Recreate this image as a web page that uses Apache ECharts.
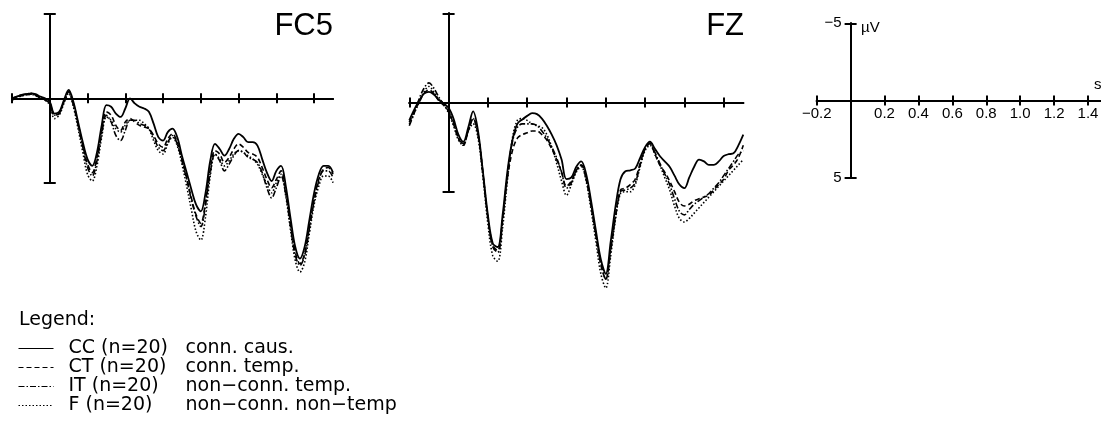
<!DOCTYPE html>
<html><head><meta charset="utf-8">
<script src="https://cdn.jsdelivr.net/npm/echarts@6/dist/echarts.min.js"></script>
<style>html,body{margin:0;padding:0;background:#fff}#c{width:1101px;height:444px}</style>
</head><body><div id="c"></div>
<script>
// time samples (s)
const TIME = [
 -0.2,-0.175,-0.15,-0.125,-0.1,-0.075,-0.05,-0.025,
 0,0.025,0.05,0.075,0.1,0.125,0.15,0.175,
 0.2,0.225,0.25,0.275,0.3,0.325,0.35,0.375,
 0.4,0.425,0.45,0.475,0.5,0.525,0.55,0.575,
 0.6,0.625,0.65,0.675,0.7,0.725,0.75,0.775,
 0.8,0.825,0.85,0.875,0.9,0.925,0.95,0.975,
 1.0,1.025,1.05,1.075,1.1,1.125,1.15,1.175,
 1.2,1.225,1.25,1.275,1.3,1.325,1.35,1.375,
 1.4,1.425,1.45,1.475,1.5];

// FC5 (µV, negative up)
const FC5_CC = [
 0.0,-0.1,-0.2,-0.25,-0.3,-0.25,-0.1,0.0,
 0.2,0.9,0.8,0.1,-0.5,0.2,1.4,2.6,
 3.6,4.0,3.2,1.6,0.4,0.5,0.9,1.1,
 0.6,0.0,0.3,0.5,0.6,0.8,1.5,2.3,
 2.5,2.0,1.8,2.3,3.4,4.4,5.4,6.3,
 6.7,5.6,3.7,2.7,3.0,3.4,3.0,2.4,
 2.1,2.3,2.6,2.6,2.8,3.6,4.4,4.9,
 4.3,4.0,5.2,7.1,8.8,9.5,8.8,7.2,
 5.6,4.5,4.0,4.0,4.4];
const FC5_CT = [
 0.1,0.0,-0.15,-0.2,-0.25,-0.2,-0.05,0.05,
 0.3,1.0,0.9,0.2,-0.4,0.3,1.5,2.8,
 3.9,4.4,3.5,1.9,0.8,1.0,1.6,1.9,
 1.4,1.2,1.4,1.6,1.7,1.8,2.2,2.7,
 2.9,2.4,2.1,2.6,3.6,4.7,5.9,6.9,
 7.4,6.1,4.2,3.1,3.3,3.8,3.5,3.0,
 2.7,2.9,3.2,3.3,3.5,4.1,4.8,5.3,
 4.8,4.3,5.5,7.4,9.1,9.8,9.2,7.6,
 6.0,4.8,4.2,4.1,4.5];
const FC5_IT = [
 0.0,-0.1,-0.2,-0.25,-0.3,-0.2,0.0,0.1,
 0.3,1.0,0.9,0.2,-0.4,0.4,1.6,2.9,
 4.1,4.6,3.7,2.1,1.0,1.4,2.2,2.5,
 1.9,1.3,1.3,1.5,1.6,1.8,2.3,2.9,
 3.1,2.6,2.2,2.7,3.7,4.8,6.0,7.0,
 7.6,6.3,4.4,3.3,3.7,4.3,3.9,3.4,
 3.1,3.2,3.5,3.6,3.8,4.4,5.3,5.9,
 5.3,4.6,5.7,7.6,9.3,9.9,9.3,7.7,
 6.1,4.9,4.3,4.3,4.7];
const FC5_F = [
 0.0,-0.1,-0.15,-0.2,-0.25,-0.15,0.0,0.1,
 0.4,1.2,1.0,0.3,-0.3,0.5,1.8,3.2,
 4.5,4.9,4.0,2.3,1.1,1.3,1.8,2.0,
 1.6,1.3,1.3,1.3,1.5,1.8,2.5,3.1,
 3.3,2.7,2.3,2.8,3.9,5.2,6.6,7.9,
 8.4,7.0,4.6,3.3,3.6,4.0,3.7,3.3,
 3.1,3.2,3.4,3.6,3.9,4.5,5.1,5.6,
 5.0,4.5,5.8,7.8,9.6,10.3,9.7,8.0,
 6.3,5.2,4.6,4.6,5.0];

// FZ
const FZ_CC = [
 1.0,0.4,-0.1,-0.5,-0.6,-0.45,-0.15,0.05,
 0.3,0.9,1.8,2.2,1.4,0.5,1.6,3.9,
 6.3,7.9,8.1,6.3,3.8,2.1,1.2,0.95,
 0.75,0.6,0.65,0.9,1.3,1.8,2.4,3.2,
 4.3,4.2,3.6,3.3,4.0,5.5,7.2,8.8,
 9.6,7.8,5.8,4.3,3.85,3.8,3.7,3.1,
 2.5,2.2,2.6,3.0,3.3,3.6,4.1,4.6,
 4.8,4.2,3.6,3.2,3.3,3.5,3.5,3.3,
 3.0,2.9,2.85,2.4,1.8];
const FZ_CT = [
 1.1,0.5,0.0,-0.5,-0.7,-0.5,-0.1,0.15,
 0.5,1.2,2.0,2.4,1.6,0.9,1.8,4.0,
 6.4,8.0,8.3,6.5,4.2,2.7,2.0,1.8,
 1.7,1.6,1.6,1.8,2.1,2.6,3.2,3.9,
 4.7,4.4,3.8,3.5,4.3,5.8,7.5,9.1,
 9.9,8.2,6.3,4.9,4.8,4.6,4.3,3.4,
 2.6,2.3,2.9,3.5,3.9,4.4,5.0,5.6,
 5.8,5.7,5.5,5.4,5.3,5.2,4.9,4.6,
 4.3,3.8,3.5,3.1,2.4];
const FZ_IT = [
 1.3,0.6,-0.2,-0.8,-1.1,-0.8,-0.3,0.1,
 0.5,1.1,2.0,2.3,1.6,0.9,1.8,4.0,
 6.5,8.1,8.4,6.6,4.0,2.2,1.4,1.2,
 1.2,1.2,1.3,1.6,2.0,2.5,3.1,3.9,
 4.8,4.5,3.8,3.5,4.2,5.7,7.4,9.0,
 9.9,8.3,6.4,5.0,4.9,4.8,4.5,3.5,
 2.6,2.3,2.8,3.4,4.0,4.6,5.4,6.1,
 6.3,6.0,5.7,5.5,5.3,5.1,4.8,4.5,
 4.1,3.7,3.3,2.9,2.7];
const FZ_F = [
 1.2,0.6,0.0,-0.6,-0.9,-0.6,-0.2,0.1,
 0.6,1.3,2.1,2.4,1.6,1.2,2.0,4.2,
 6.8,8.6,8.9,7.0,4.3,2.0,1.0,0.9,
 1.0,1.2,1.3,1.4,1.8,2.5,3.4,4.4,
 5.2,4.6,3.9,3.6,4.4,6.0,7.8,9.6,
 10.4,8.6,6.5,5.1,5.0,5.0,4.6,3.6,
 2.7,2.4,2.9,3.5,4.2,4.9,5.8,6.5,
 6.7,6.5,6.2,5.9,5.6,5.3,5.0,4.7,
 4.4,4.1,3.8,3.5,3.2];

const CONDITIONS = ['CC','CT','IT','F'];
const COND_CODE = ['CC (n=20)','CT (n=20)','IT (n=20)','F (n=20)'];
const COND_DESC = ['conn. caus.','conn. temp.','non\u2212conn. temp.','non\u2212conn. non\u2212temp'];
const PANELS = ['FC5','FZ'];
const X_TICKS = [-0.2,0.2,0.4,0.6,0.8,1.0,1.2,1.4];
const Y_TICKS = [-5,5];
const X_MIN = -0.2, X_MAX = 1.5, Y_MIN = -5, Y_MAX = 5;

const DATA = {FC5: [FC5_CC, FC5_CT, FC5_IT, FC5_F], FZ: [FZ_CC, FZ_CT, FZ_IT, FZ_F]};
const DASH = {CC: 'solid', CT: [5,3], IT: [6,2,1.5,2], F: [1.5,2]};

const SCALE = {left: 816.7, top: 23.3, width: 288.3, height: 154.4};
const X0 = SCALE.left + SCALE.width * (0 - X_MIN) / (X_MAX - X_MIN);
const GRIDS = [
  {left: 12, top: 14, width: 321, height: 168.7},
  {left: 409.3, top: 13.3, width: 334, height: 178.4},
  SCALE,
  // label carriers for the scale panel (edges on the zero lines)
  {left: SCALE.left, top: SCALE.top, width: SCALE.width, height: SCALE.height / 2},
  {left: X0, top: SCALE.top, width: 100, height: SCALE.height}
];

const minus = s => String(s).replace('-', '\u2212');
const FONT = 'Liberation Sans';
const LBL = {color: '#000', fontFamily: FONT, fontSize: 15};

const xAxes = [], yAxes = [];
[0,1,2].forEach(gi => {
  ['in','out'].forEach(side => {
    xAxes.push({
      type: 'value', gridIndex: gi, min: X_MIN, max: X_MAX, interval: 0.2, position: 'bottom',
      axisLine: {show: true, onZero: true, lineStyle: {color: '#000', width: 2}},
      axisTick: {show: true, inside: side === 'in', length: 5, customValues: X_TICKS, lineStyle: {color: '#000', width: 2}},
      axisLabel: {show: false},
      splitLine: {show: false}
    });
    yAxes.push({
      type: 'value', gridIndex: gi, min: Y_MIN, max: Y_MAX, inverse: true, position: 'left',
      axisLine: {show: true, onZero: true, lineStyle: {color: '#000', width: 2}},
      axisTick: {show: true, inside: side === 'in', length: 6, customValues: Y_TICKS, lineStyle: {color: '#000', width: 2}},
      axisLabel: {show: false},
      splitLine: {show: false}
    });
  });
});
// grid 3: x tick labels of the scale panel
xAxes.push({
  type: 'value', gridIndex: 3, min: X_MIN, max: X_MAX, interval: 0.2, position: 'bottom',
  axisLine: {show: false, onZero: false}, axisTick: {show: false}, splitLine: {show: false},
  axisLabel: Object.assign({show: true, customValues: X_TICKS, margin: 6,
    formatter: v => minus(Number(v).toFixed(1))}, LBL)
});
yAxes.push({type: 'value', gridIndex: 3, show: false, min: 0, max: 1});
// grid 4: y tick labels of the scale panel
xAxes.push({type: 'value', gridIndex: 4, show: false, min: 0, max: 1});
yAxes.push({
  type: 'value', gridIndex: 4, min: Y_MIN, max: Y_MAX, inverse: true, position: 'left',
  axisLine: {show: false, onZero: false}, axisTick: {show: false}, splitLine: {show: false},
  axisLabel: Object.assign({show: true, customValues: Y_TICKS, margin: 9,
    formatter: v => minus(v)}, LBL)
});

const series = [];
PANELS.forEach((p, pi) => {
  [3,2,1,0].forEach(ci => {
    const name = CONDITIONS[ci];
    series.push({
      type: 'line', name: name, xAxisIndex: pi*2, yAxisIndex: pi*2,
      data: TIME.map((t, i) => [t, DATA[p][ci][i]]),
      symbol: 'none', showSymbol: false, smooth: 0.35, clip: false,
      lineStyle: {color: '#000', width: name === 'CC' ? 1.8 : 1.6, type: DASH[name]},
      itemStyle: {color: '#000'},
      z: 10 - ci
    });
  });
});

const chart = echarts.init(document.getElementById('c'), null, {renderer: 'canvas'});
chart.setOption({
  animation: false,
  backgroundColor: '#fff',
  grid: GRIDS.map(g => Object.assign({containLabel: false, outerBoundsMode: 'none'}, g)),
  xAxis: xAxes,
  yAxis: yAxes,
  title: [
    {text: 'FC5', right: 1101 - 333, top: 11, padding: 0, textStyle: {fontFamily: FONT, fontSize: 31, fontWeight: 'normal', color: '#000'}},
    {text: 'FZ', right: 1101 - 744, top: 11, padding: 0, textStyle: {fontFamily: FONT, fontSize: 31, fontWeight: 'normal', color: '#000'}},
    {text: '\u00b5V', left: 861, top: 20, padding: 0, textStyle: {fontFamily: FONT, fontSize: 15, fontWeight: 'normal', color: '#000'}},
    {text: 's', left: 1094, top: 77, padding: 0, textStyle: {fontFamily: FONT, fontSize: 15, fontWeight: 'normal', color: '#000'}},
    {text: 'Legend:', left: 19, top: 311, padding: 0, textStyle: {fontFamily: 'DejaVu Sans', fontSize: 19, fontWeight: 'normal', color: '#000'}}
  ],
  legend: {
    data: CONDITIONS, orient: 'vertical', left: 18, top: 339, padding: 0,
    itemWidth: 35, itemHeight: 10, itemGap: 0, selectedMode: false,
    lineStyle: {width: 1},
    itemStyle: {opacity: 0},
    formatter: name => {
      const i = CONDITIONS.indexOf(name);
      return '{p| }{a|' + COND_CODE[i] + '}{b|' + COND_DESC[i] + '}';
    },
    textStyle: {
      color: '#000', fontFamily: 'DejaVu Sans', fontSize: 19, lineHeight: 19,
      rich: {
        p: {width: 10, fontSize: 19, lineHeight: 19},
        a: {width: 117, fontFamily: 'DejaVu Sans', fontSize: 19, lineHeight: 19, color: '#000'},
        b: {fontFamily: 'DejaVu Sans', fontSize: 19, lineHeight: 19, color: '#000'}
      }
    }
  },
  series: series
});
</script>
</body></html>
